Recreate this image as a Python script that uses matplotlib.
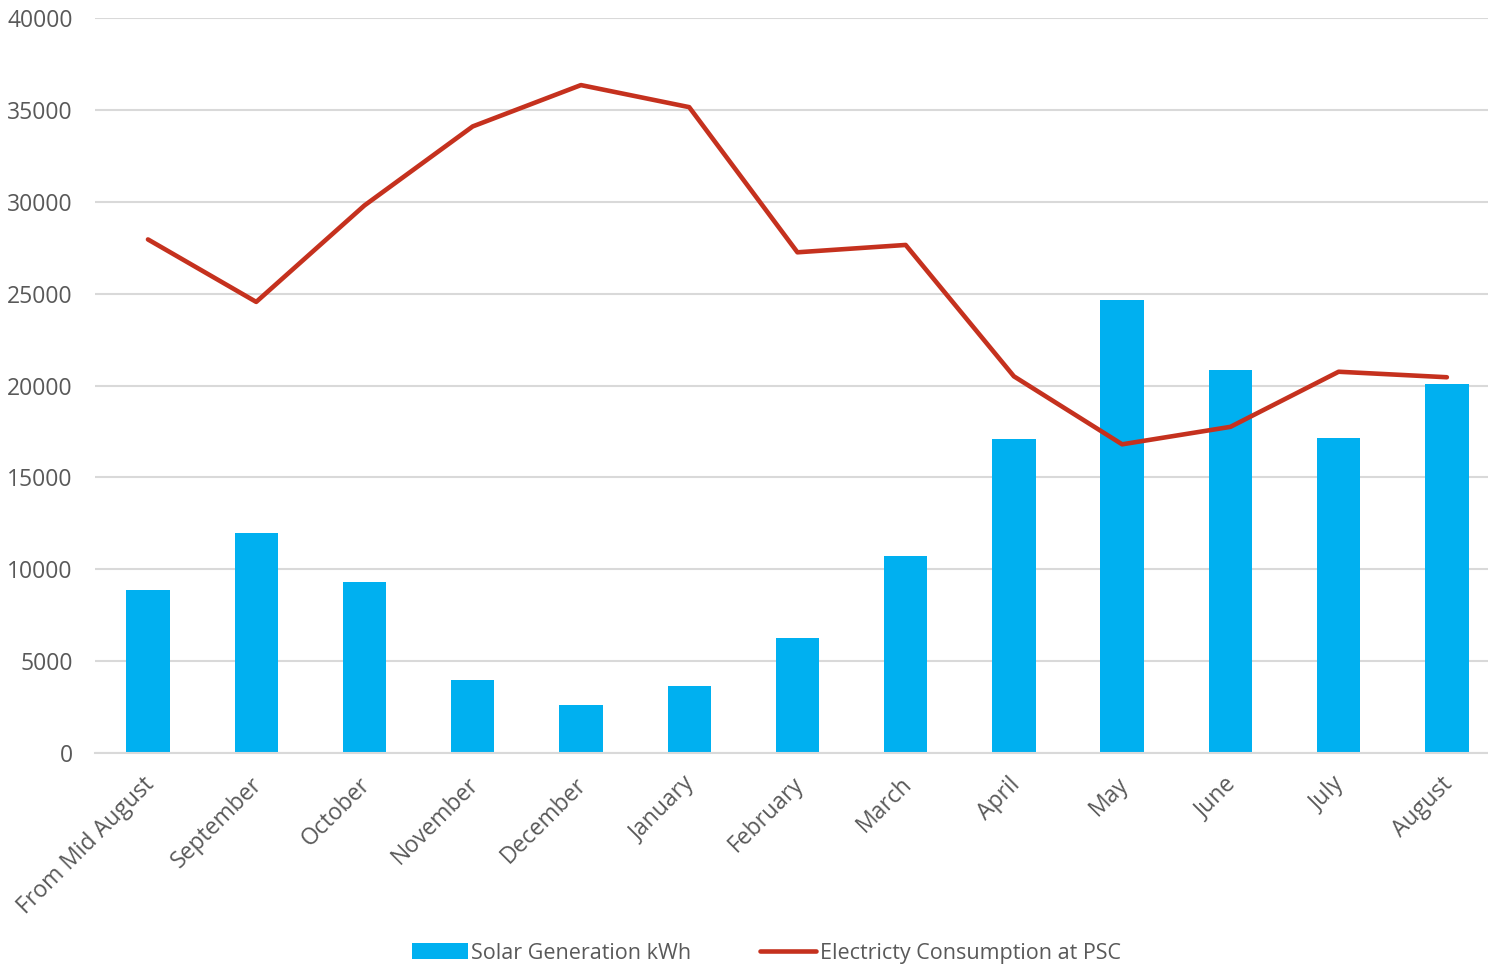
import matplotlib.pyplot as plt
import matplotlib.transforms as mtransforms
import numpy as np

plt.rcParams['font.family'] = ['Open Sans', 'DejaVu Sans']

months = ['From Mid August', 'September', 'October', 'November', 'December',
          'January', 'February', 'March', 'April', 'May', 'June', 'July', 'August']
solar = [8850, 12000, 9300, 3950, 2600, 3650, 6250, 10700, 17100, 24650, 20850, 17150, 20100]
consumption = [27950, 24550, 29800, 34100, 36350, 35150, 27250, 27650, 20500, 16800, 17750, 20750, 20450]

txt = '#595959'
x = np.arange(len(months))

fig = plt.figure(figsize=(14.88, 9.69), dpi=100)
ax = fig.add_axes([0.0638, 0.2229, 0.9362, 0.7585])

bars = ax.bar(x, solar, width=0.4, color='#00B0F0', label='Solar Generation kWh', zorder=2)
line, = ax.plot(x, consumption, color='#C5311E', lw=3.3, solid_capstyle='round',
                label='Electricty Consumption at PSC', zorder=3)

ax.set_xlim(-0.49, 12.38)
ax.set_ylim(0, 40000)
ax.set_yticks(range(0, 40001, 5000))
ax.yaxis.grid(True, color='#D9D9D9', lw=1.5, zorder=0)
ax.set_axisbelow(True)
for s in ['top', 'right', 'left']:
    ax.spines[s].set_visible(False)
ax.spines['bottom'].set_color('#D9D9D9')
ax.spines['bottom'].set_linewidth(1.5)
ax.tick_params(axis='both', length=0, colors=txt, labelsize=16.5)
ax.tick_params(axis='y', pad=16)
ax.set_xticks(x)
ax.set_xticklabels(months, rotation=45, ha='right', rotation_mode='anchor')
ax.tick_params(axis='x', pad=14)
# nudge the rotated labels a little to the left
shift = mtransforms.ScaledTranslation(-6 / 100, 0, fig.dpi_scale_trans)
for lbl in ax.get_xticklabels():
    lbl.set_transform(lbl.get_transform() + shift)

leg = fig.legend([bars, line], ['Solar Generation kWh', 'Electricty Consumption at PSC'],
                 loc='center', bbox_to_anchor=(0.515, 0.0165), ncol=2, frameon=False,
                 fontsize=15.5, handlelength=2.6, handleheight=0.75, handletextpad=0.15,
                 columnspacing=3.2)
for t in leg.get_texts():
    t.set_color(txt)

fig.savefig('out.png', dpi=100)
